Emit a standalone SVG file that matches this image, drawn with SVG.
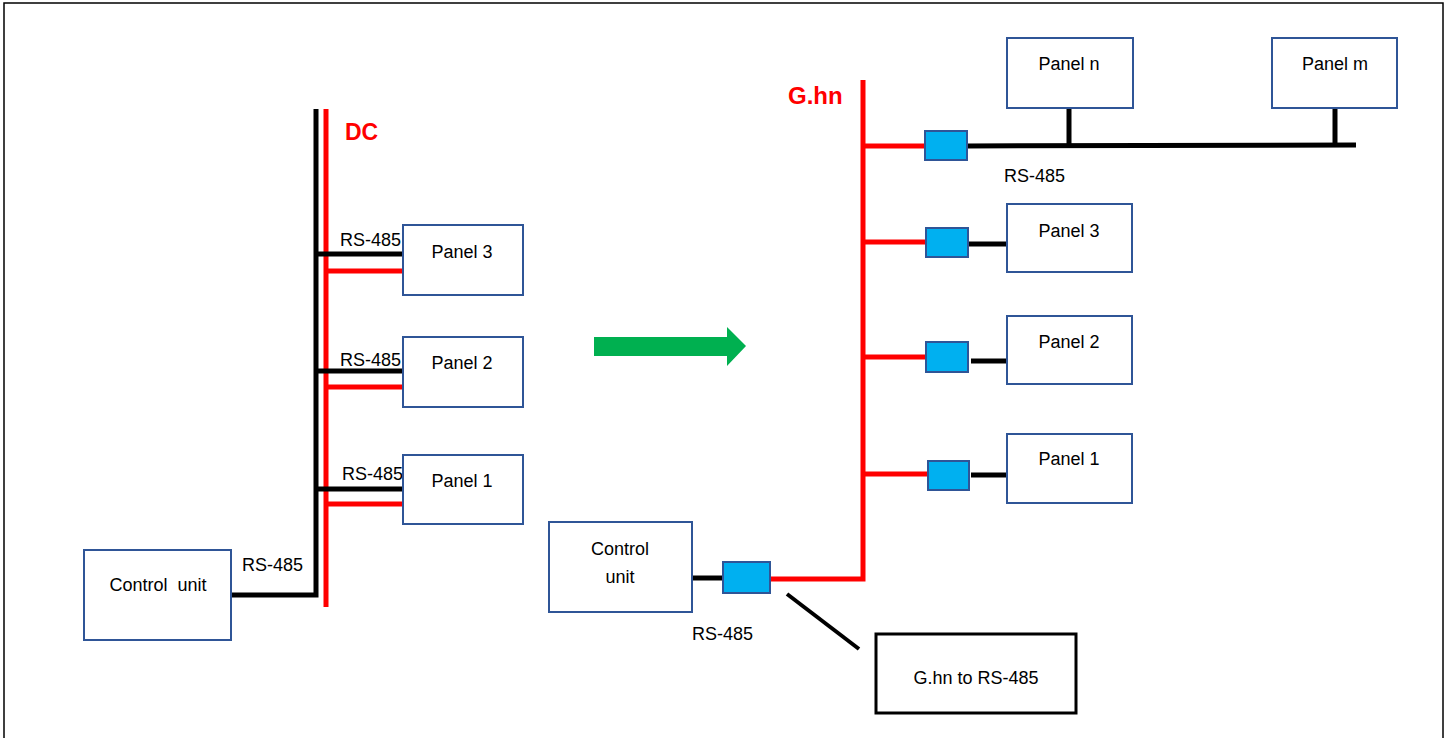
<svg xmlns="http://www.w3.org/2000/svg" width="1447" height="738" viewBox="0 0 1447 738">
<style>
.box{fill:#fff;stroke:#2F5597;stroke-width:2}
.conv{fill:#00B0F0;stroke:#2F5597;stroke-width:2}
.t{font-family:"Liberation Sans",Arial,sans-serif;font-size:18px;fill:#000}
.c{text-anchor:middle}
.red{stroke:#FF0000;stroke-width:5;fill:none}
.blk{stroke:#000;stroke-width:5;fill:none}
.lbl{font-family:"Liberation Sans",Arial,sans-serif;font-weight:bold;fill:#FF0000}
</style>
<rect x="0" y="0" width="1447" height="738" fill="#fff"/>
<rect x="4" y="3" width="1439" height="740" fill="none" stroke="#000" stroke-width="1.5"/>
<g id="connectors">
<polyline class="blk" points="231,595 316,595 316,109"/>
<line class="red" x1="326" y1="109" x2="326" y2="607"/>
<line class="blk" x1="316" y1="254" x2="402" y2="254"/>
<line class="red" x1="326" y1="271" x2="402" y2="271"/>
<line class="blk" x1="316" y1="371" x2="402" y2="371"/>
<line class="red" x1="326" y1="387" x2="402" y2="387"/>
<line class="blk" x1="316" y1="489" x2="402" y2="489"/>
<line class="red" x1="326" y1="504" x2="402" y2="504"/>
<polyline class="red" points="770,579 863,579 863,80"/>
<line class="red" x1="863" y1="146" x2="925" y2="146"/>
<line class="red" x1="863" y1="242" x2="926" y2="242"/>
<line class="red" x1="863" y1="357" x2="926" y2="357"/>
<line class="red" x1="863" y1="474" x2="928" y2="474"/>
<line class="blk" x1="967" y1="146" x2="1356" y2="145"/>
<line class="blk" x1="1069" y1="108" x2="1069" y2="146"/>
<line class="blk" x1="1335" y1="108" x2="1335" y2="145"/>
<line class="blk" x1="968" y1="244" x2="1007" y2="244"/>
<line class="blk" x1="971" y1="361" x2="1007" y2="361"/>
<line class="blk" x1="971" y1="475" x2="1007" y2="475"/>
<line class="blk" x1="692" y1="578" x2="723" y2="578"/>
<line stroke="#000" stroke-width="4" x1="787" y1="594" x2="859" y2="649"/>
<polygon fill="#00B050" points="594,337 727,337 727,327 746,346 727,366 727,356 594,356"/>
</g>
<text class="lbl" x="345" y="140" font-size="23">DC</text>
<text class="lbl" x="788" y="104" font-size="24">G.hn</text>
<text class="t" x="340" y="246">RS-485</text>
<text class="t" x="340" y="366">RS-485</text>
<text class="t" x="342" y="480">RS-485</text>
<text class="t" x="242" y="571">RS-485</text>
<text class="t" x="1004" y="182">RS-485</text>
<text class="t" x="692" y="640">RS-485</text>
<g id="control-left"><rect class="box" x="84" y="550" width="147" height="90"/><text class="t c" x="158" y="591" xml:space="preserve">Control  unit</text></g>
<g id="panel3-left"><rect class="box" x="403" y="225" width="120" height="70"/><text class="t c" x="462" y="258">Panel 3</text></g>
<g id="panel2-left"><rect class="box" x="403" y="337" width="120" height="70"/><text class="t c" x="462" y="369">Panel 2</text></g>
<g id="panel1-left"><rect class="box" x="403" y="455" width="120" height="69"/><text class="t c" x="462" y="487">Panel 1</text></g>
<g id="control-right"><rect class="box" x="549" y="522" width="143" height="90"/><text class="t c" x="620" y="555">Control</text><text class="t c" x="620" y="583">unit</text></g>
<g id="panel-n"><rect class="box" x="1007" y="38" width="126" height="70"/><text class="t c" x="1069" y="70">Panel n</text></g>
<g id="panel-m"><rect class="box" x="1272" y="38" width="125" height="70"/><text class="t c" x="1335" y="70">Panel m</text></g>
<g id="panel3-right"><rect class="box" x="1007" y="204" width="125" height="68"/><text class="t c" x="1069" y="237">Panel 3</text></g>
<g id="panel2-right"><rect class="box" x="1007" y="316" width="125" height="68"/><text class="t c" x="1069" y="348">Panel 2</text></g>
<g id="panel1-right"><rect class="box" x="1007" y="434" width="125" height="69"/><text class="t c" x="1069" y="465">Panel 1</text></g>
<g id="conv1"><rect class="conv" x="925" y="131" width="42" height="29"/></g>
<g id="conv2"><rect class="conv" x="926" y="228" width="42" height="29"/></g>
<g id="conv3"><rect class="conv" x="926" y="342" width="42" height="30"/></g>
<g id="conv4"><rect class="conv" x="928" y="461" width="41" height="29"/></g>
<g id="conv-cu"><rect class="conv" x="723" y="562" width="47" height="31"/></g>
<g id="gateway-note"><rect x="876" y="634" width="200" height="79" fill="#fff" stroke="#000" stroke-width="3"/><text class="t c" x="976" y="684">G.hn to RS-485</text></g>
</svg>
